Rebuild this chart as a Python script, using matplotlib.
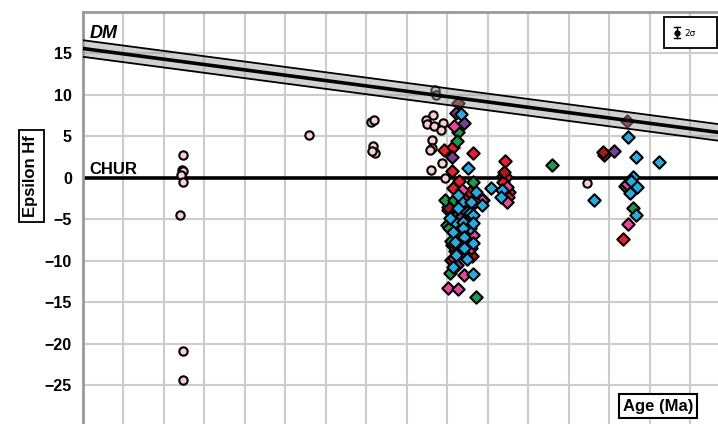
import matplotlib
matplotlib.use("Agg")
import matplotlib.pyplot as plt
from matplotlib.patches import Rectangle
from matplotlib.lines import Line2D
import numpy as np

plt.rcParams['font.family'] = ['Liberation Sans', 'DejaVu Sans']

# ---------------- data (Age in Ma, epsilon Hf) ----------------
circle_x = [494, 489, 494, 484, 494, 479, 494, 494, 1116,
            1421, 1437, 1432, 1442, 1427,
            1738, 1743, 1728, 1694, 1699, 1733, 1778, 1768, 1723, 1723, 1714,
            1773, 1719, 1788, 2489]
circle_y = [2.8, 1.0, 0.8, 0.4, -0.5, -4.5, -20.8, -24.3, 5.2,
            6.8, 7.0, 3.9, 3.0, 3.2,
            10.6, 10.0, 7.6, 7.0, 6.5, 6.3, 6.6, 5.8, 4.6, 3.6, 3.4,
            1.8, 1.0, 0.0, -0.6]

red_x = [1783, 1827, 1926, 1822, 2084, 2074, 2089, 2074, 2104, 2099, 1827, 1911,
         1886, 1847, 1886, 1837, 2573, 2667, 1802, 1862, 1822, 1911, 1857, 1891,
         1842, 1906, 1817, 1867]
red_y = [3.4, 3.7, 3.0, 0.8, 2.0, 0.2, 0.1, -0.5, -1.7, -2.3, -1.2, -1.7,
         -2.6, -4.5, -4.7, -8.8, 2.8, -7.3, -3.9, -6.9, -8.1, -5.8, -0.4, -3.6,
         -6.2, -9.0, -5.0, -4.0]

darkred_x = [1852, 2079, 2568, 2686, 1802, 1872, 1832, 1901, 1817, 1921, 1857]
darkred_y = [9.0, 0.7, 3.1, 6.9, -3.5, -7.5, -5.9, -3.4, -9.9, -9.4, -8.6]

green_x = [1852, 1847, 1926, 1788, 1832, 1975, 1812, 1941, 2316, 2677, 2716,
           1797, 1807, 1817]
green_y = [5.5, 4.5, -0.5, -2.6, -2.6, -2.6, -11.4, -14.3, 1.6, -1.0, -3.6,
           -5.7, -6.0, -7.6]

cyan_x = [1867, 1901, 2015, 2069, 2064, 1872, 1916, 1970, 1852, 1896, 1911,
          1926, 1837, 1877, 1911, 1827, 1877, 1926, 1837, 1881, 1926, 1877,
          1881, 1827, 1926, 1812, 1852, 1941, 1842, 1896,
          2691, 2731, 2844, 2523, 2716, 2706, 2736, 2701, 2731]
cyan_y = [7.7, 1.2, -1.2, -1.4, -2.3, -2.9, -2.9, -3.3, -3.6, -4.1, -4.2,
          -4.5, -5.3, -5.3, -6.0, -6.5, -6.0, -5.4, -7.7, -7.1, -7.8, -8.3,
          -8.4, -10.7, -11.6, -4.8, -2.0, -1.7, -9.3, -9.8,
          4.9, 2.5, 1.9, -2.7, 0.1, -0.4, -1.1, -1.8, -4.5]

magenta_x = [1832, 1872, 1970, 1936, 1926, 1916, 1832, 1881, 1802, 1852,
             2094, 2094, 2686, 2691]
magenta_y = [6.3, -1.4, -2.6, -2.9, -6.9, -8.4, -9.6, -11.7, -13.3, -13.4,
             -1.1, -2.9, -0.7, -5.5]

purple_x = [1842, 1881, 1822, 1847, 2622, 1862]
purple_y = [7.8, 6.6, 2.5, -10.5, 3.3, -4.8]

# Depleted mantle reference line (center and half-width)
dm_age = [0, 3136]
dm_center = [15.6, 5.5]
dm_halfwidth = 1.0

y_ticks = [15, 10, 5, 0, -5, -10, -15, -20, -25]
x_grid_step = 200

# ---------------- figure ----------------
W, H = 718, 424
fig = plt.figure(figsize=(W / 100, H / 100), dpi=100)
ax = fig.add_axes([83 / W, 0, (W - 83) / W, (H - 12) / H])
ax.set_xlim(0, 3136)
ax.set_ylim(-29.64, 20.0)

ax.set_xticks(np.arange(0, 3137, x_grid_step))
ax.set_yticks(y_ticks)
ax.set_xticklabels([])
ax.set_yticklabels([str(v).replace('-', '\u2212') for v in y_ticks],
                   fontsize=11.5, fontweight='bold')
ax.tick_params(axis='both', length=0, pad=8)
ax.grid(True, color='#cccccc', linewidth=1.5, zorder=0)
ax.set_axisbelow(True)

for s in ['right', 'bottom']:
    ax.spines[s].set_visible(False)
for s in ['top', 'left']:
    ax.spines[s].set_color('#999999')
    ax.spines[s].set_linewidth(2)

# CHUR
ax.axhline(0, color='black', linewidth=2.6, zorder=2)

# data points
ax.scatter(circle_x, circle_y, s=36, marker='o', facecolor='#fbd0cc',
           edgecolor='black', linewidth=1.5, zorder=3)
series = [
    (red_x, red_y, '#e8202a'),
    (darkred_x, darkred_y, '#a81818'),
    (green_x, green_y, '#1a9a4a'),
    (magenta_x, magenta_y, '#e8489a'),
    (purple_x, purple_y, '#7a3d9a'),
    (cyan_x, cyan_y, '#29aae1'),
]
for xs, ys, c in series:
    ax.scatter(xs, ys, s=40, marker='D', facecolor=c, edgecolor='black',
               linewidth=1.5, zorder=3)

# DM band
up = [v + dm_halfwidth for v in dm_center]
lo = [v - dm_halfwidth for v in dm_center]
ax.fill_between(dm_age, lo, up, color='#999999', alpha=0.45, linewidth=0, zorder=4)
ax.plot(dm_age, up, color='black', linewidth=1.3, zorder=5)
ax.plot(dm_age, lo, color='black', linewidth=1.3, zorder=5)
ax.plot(dm_age, dm_center, color='black', linewidth=2.6, zorder=5)

ax.text(35, 16.9, 'DM', fontsize=13, fontweight='bold', fontstyle='italic',
        ha='left', va='baseline', zorder=6)
ax.text(30, 0.45, 'CHUR', fontsize=12, fontweight='bold', ha='left',
        va='baseline', zorder=6)

# y label boxed
fig.text(31 / W, 1 - 176 / H, 'Epsilon Hf', rotation=90, fontsize=12,
         fontweight='bold', ha='center', va='center',
         bbox=dict(boxstyle='square,pad=0.3', facecolor='white',
                   edgecolor='black', linewidth=1.3))

# x label boxed
fig.text(658 / W, 1 - 406 / H, 'Age (Ma)', fontsize=12, fontweight='bold',
         ha='center', va='center',
         bbox=dict(boxstyle='square,pad=0.25', facecolor='white',
                   edgecolor='black', linewidth=1.5))

# 2-sigma legend box
fig.add_artist(Rectangle((664 / W, 1 - 48 / H), 53 / W, 31 / H,
                         transform=fig.transFigure, facecolor='white',
                         edgecolor='black', linewidth=1.3, zorder=10))
ex = 677 / W
fig.add_artist(Line2D([ex, ex], [1 - 38 / H, 1 - 27 / H], transform=fig.transFigure,
                      color='black', linewidth=1, zorder=11))
for yy in (27, 38):
    fig.add_artist(Line2D([ex - 3 / W, ex + 3 / W], [1 - yy / H, 1 - yy / H],
                          transform=fig.transFigure, color='black', linewidth=1,
                          zorder=11))
fig.add_artist(Line2D([ex], [1 - 32.5 / H], transform=fig.transFigure, marker='o',
                      markersize=3.5, color='black', zorder=11))
fig.text(684 / W, 1 - 33 / H, '2σ', fontsize=6.5, ha='left', va='center',
         zorder=12, family=['DejaVu Sans'])

fig.savefig('out.png', dpi=100)
